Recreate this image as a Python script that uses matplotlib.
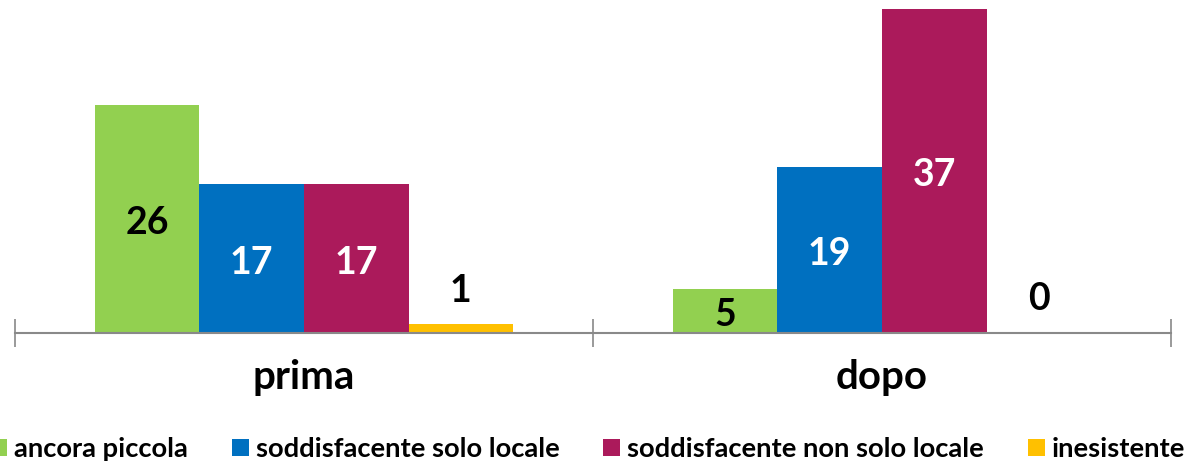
import numpy as np
from matplotlib import pyplot as plt
from matplotlib.patches import Patch

plt.rcParams['font.family'] = ['Lato', 'DejaVu Sans']
plt.rcParams['font.weight'] = 'bold'

# data
periods = ['prima', 'dopo']
series = ['ancora piccola', 'soddisfacente solo locale',
          'soddisfacente non solo locale', 'inesistente']
values = [
    [26, 5],
    [17, 19],
    [17, 37],
    [1, 0],
]
colours = ['#92D050', '#0070C0', '#AB1A5B', '#FFC000']
label_colours = ['black', 'white', 'white', 'black']

fig = plt.figure(figsize=(11.91, 4.65), dpi=100)
ax = fig.add_axes([0.0126, 0.2839, 0.9706, 0.7157])

x = np.arange(len(periods))
w = 0.181
for i, (vals, col) in enumerate(zip(values, colours)):
    pos = x + (i - 1.5) * w
    ax.bar(pos, vals, width=w, color=col, linewidth=0)
    for px, v in zip(pos, vals):
        if v >= 5:
            # inside the bar, roughly centred
            ax.annotate(str(v), (px, v / 2), xytext=(0, -3), textcoords='offset points',
                        ha='center', va='center', fontsize=27, fontweight='bold',
                        color=label_colours[i])
        else:
            ax.annotate(str(v), (px, v), xytext=(0, 12), textcoords='offset points',
                        ha='center', va='bottom', fontsize=27, fontweight='bold',
                        color='black')

ax.set_xlim(-0.5, 1.5)
ax.set_ylim(0, 38)

axis_grey = '#898989'
for s in ['top', 'right', 'left']:
    ax.spines[s].set_visible(False)
ax.spines['bottom'].set_color(axis_grey)
ax.spines['bottom'].set_linewidth(1.5)
ax.set_yticks([])

ax.set_xticks([-0.5, 0.5, 1.5])
ax.set_xticklabels([])
ax.tick_params(axis='x', which='major', direction='inout', length=19.5,
               width=1.2, color=axis_grey)
ax.set_xticks(x, minor=True)
ax.set_xticklabels(periods, minor=True, fontsize=29, fontweight='bold')
ax.tick_params(axis='x', which='minor', length=0, pad=19)

handles = [Patch(facecolor=c, edgecolor='none') for c in colours]
fig.legend(handles, series, loc='center left', bbox_to_anchor=(-0.0085, 0.034),
           ncol=4, frameon=False, borderpad=0, borderaxespad=0,
           handlelength=0.62, handleheight=0.62, handletextpad=0.26,
           columnspacing=1.6, prop={'weight': 'bold', 'size': 19.7})

fig.savefig('out.png', dpi=100)
